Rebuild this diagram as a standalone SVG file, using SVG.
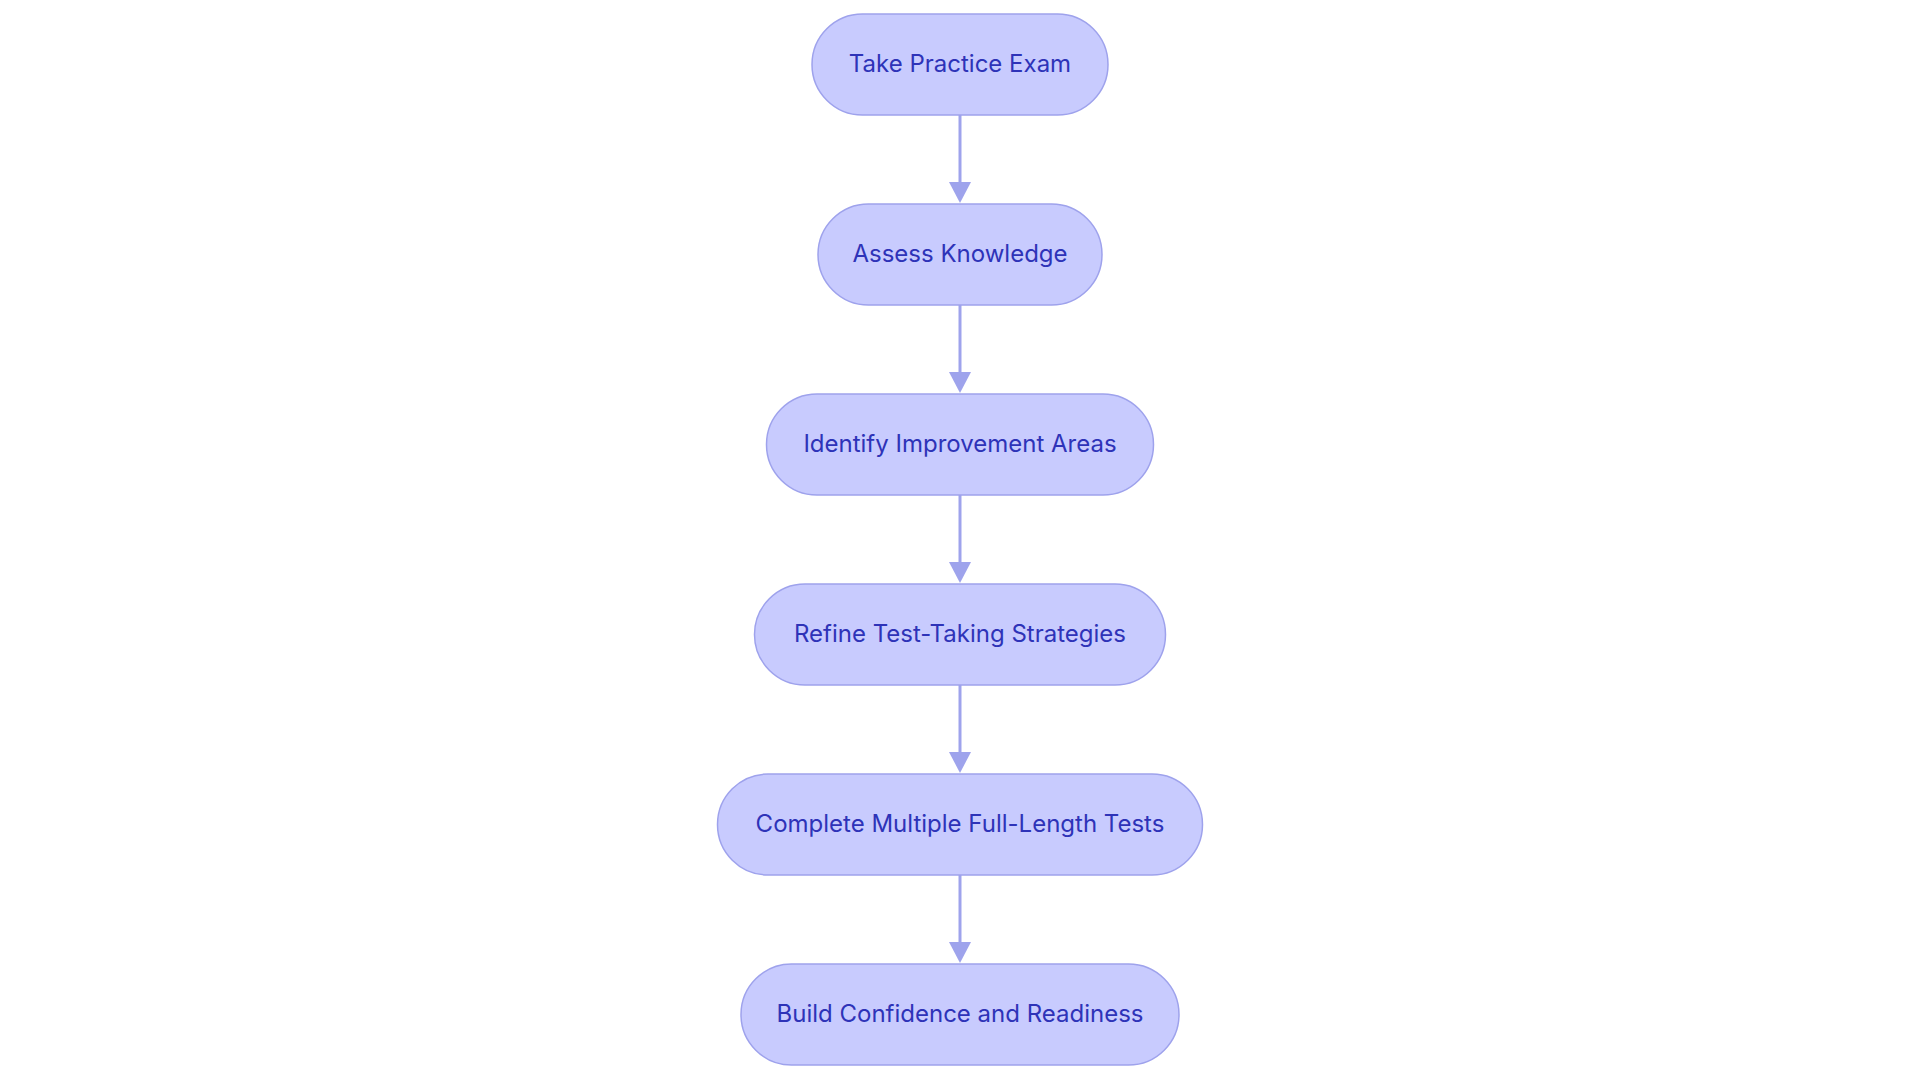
<svg xmlns="http://www.w3.org/2000/svg" width="1920" height="1083" viewBox="0 0 1920 1083">
<defs>
<style>
.node rect{fill:#c8cbfe;stroke:#9ea2ec;stroke-width:1.5}
.node text{fill:#2e33b8;font-family:Inter,"Noto Sans",sans-serif;font-size:24px;font-weight:400;text-anchor:middle}
.edge{stroke:#9ea3ec;stroke-width:3;fill:none}
.head{fill:#9ea3ec}
</style>
</defs>
<rect width="1920" height="1083" fill="#ffffff"/>
<g id="connectors">
<line class="edge" x1="960" y1="115" x2="960" y2="184"/>
<line class="edge" x1="960" y1="305" x2="960" y2="374"/>
<line class="edge" x1="960" y1="495" x2="960" y2="564"/>
<line class="edge" x1="960" y1="685" x2="960" y2="754"/>
<line class="edge" x1="960" y1="875" x2="960" y2="944"/>
<path class="head" d="M949,182 L971,182 L960,203 Z"/>
<path class="head" d="M949,372 L971,372 L960,393 Z"/>
<path class="head" d="M949,562 L971,562 L960,583 Z"/>
<path class="head" d="M949,752 L971,752 L960,773 Z"/>
<path class="head" d="M949,942 L971,942 L960,963 Z"/>
</g>
<g id="n1" class="node"><rect x="812" y="14" width="296" height="101" rx="50.5"/><text x="960" y="72">Take Practice Exam</text></g>
<g id="n2" class="node"><rect x="818" y="204" width="284" height="101" rx="50.5"/><text x="960" y="262">Assess Knowledge</text></g>
<g id="n3" class="node"><rect x="766.5" y="394" width="387" height="101" rx="50.5"/><text x="960" y="452">Identify Improvement Areas</text></g>
<g id="n4" class="node"><rect x="754.5" y="584" width="411" height="101" rx="50.5"/><text x="960" y="642">Refine Test-Taking Strategies</text></g>
<g id="n5" class="node"><rect x="717.5" y="774" width="485" height="101" rx="50.5"/><text x="960" y="832">Complete Multiple Full-Length Tests</text></g>
<g id="n6" class="node"><rect x="741" y="964" width="438" height="101" rx="50.5"/><text x="960" y="1022">Build Confidence and Readiness</text></g>
</svg>
